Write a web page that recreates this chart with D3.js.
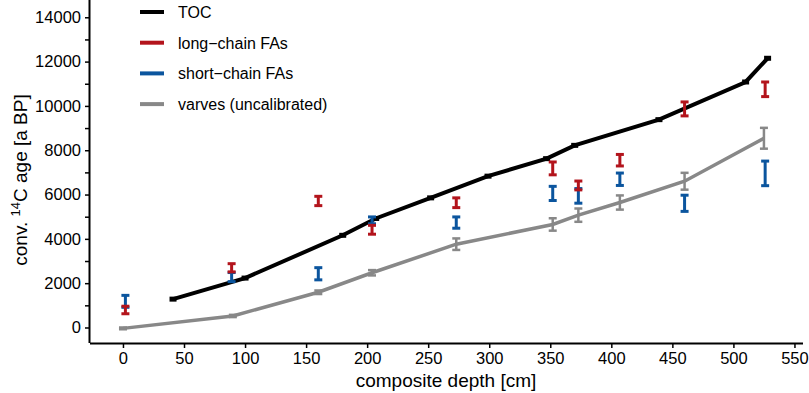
<!DOCTYPE html>
<html>
<head>
<meta charset="utf-8">
<script src="https://cdn.jsdelivr.net/npm/d3@7"></script>
<style>
  body { margin: 0; background: #fff; }
  text { font-family: "Liberation Sans", Arial, sans-serif; fill: #000; }
</style>
</head>
<body>
<svg id="chart" width="809" height="393"></svg>
<script>
// TOC ages
const tocDepth = [41, 100, 180, 207, 252, 299, 347, 370, 439, 510, 528];
const tocAge = [1280, 2230, 4160, 4920, 5850, 6830, 7620, 8220, 9380, 11080, 12150];

// varve ages (uncalibrated) with error range
const varveDepth = [0, 90, 160, 204, 273, 352, 373, 407, 460, 525];
const varveAge = [-40, 520, 1590, 2470, 3760, 4650, 5070, 5640, 6600, 8540];
const varveErr = [40, 50, 80, 120, 260, 280, 300, 320, 380, 470];

// long-chain fatty acids: lower / upper
const fatDepth = [2, 89, 160, 204, 273, 352, 373, 407, 460, 526];
const longLo = [620, 2510, 5500, 4210, 5410, 6890, 6210, 7290, 9550, 10420];
const longHi = [960, 2880, 5920, 4610, 5850, 7470, 6610, 7810, 10180, 11080];

// short-chain fatty acids: lower / upper
const shortLo = [910, 2070, 2150, 4680, 4480, 5730, 5610, 6410, 5240, 6400];
const shortHi = [1450, 2480, 2700, 4990, 4990, 6370, 6270, 6970, 5970, 7510];

const xTicks = [0, 50, 100, 150, 200, 250, 300, 350, 400, 450, 500, 550];
const yTicks = [0, 2000, 4000, 6000, 8000, 10000, 12000, 14000];

const legendNames = ['TOC', 'long\u2212chain FAs', 'short\u2212chain FAs', 'varves (uncalibrated)'];
const colors = { toc: '#000000', long: '#b3141c', short: '#0b559e', varve: '#888888' };
const legendColors = [colors.toc, colors.long, colors.short, colors.varve];

const svg = d3.select('#chart');

const x = d3.scaleLinear().domain([-27, 557]).range([90, 803]);
const y = d3.scaleLinear().domain([-700, 14780]).range([343, 0]);

// axes
const xAxis = d3.axisBottom(x).tickValues(xTicks).tickSize(5).tickPadding(4);
const yAxis = d3.axisLeft(y).tickValues(d3.range(0, 14001, 1000)).tickSize(5).tickPadding(4)
  .tickFormat(function (d) { return yTicks.indexOf(d) >= 0 ? d : ''; });

const gx = svg.append('g').attr('transform', 'translate(0,343)').call(xAxis);
const gy = svg.append('g').attr('transform', 'translate(90,0)').call(yAxis);

[gx, gy].forEach(function (g) {
  g.select('.domain').attr('stroke-width', 2).attr('stroke', '#000');
  g.selectAll('.tick line').attr('stroke-width', 1.5).attr('stroke', '#000');
  g.selectAll('.tick text').style('font-size', '16.5px').style('font-family', '"Liberation Sans", Arial, sans-serif').attr('fill', '#000');
});
gx.select('.domain').attr('d', 'M90,0.5H803');
gy.select('.domain').attr('d', 'M-0.5,0V343');

// axis titles
svg.append('text')
  .attr('x', 446).attr('y', 387)
  .attr('text-anchor', 'middle')
  .style('font-size', '19px')
  .text('composite depth [cm]');

const yt = svg.append('text')
  .attr('transform', 'translate(27,180) rotate(-90)')
  .attr('text-anchor', 'middle')
  .style('font-size', '19px');
yt.append('tspan').text('conv. ');
yt.append('tspan').attr('dy', -7).style('font-size', '13px').text('14');
yt.append('tspan').attr('dy', 7).text('C age [a BP]');

// error bar helper
function errorBars(depths, lo, hi, color, width, capW) {
  const g = svg.append('g').attr('stroke', color).attr('stroke-width', width).attr('fill', 'none');
  depths.forEach(function (d, i) {
    const cx = x(d);
    g.append('line').attr('x1', cx).attr('x2', cx).attr('y1', y(lo[i])).attr('y2', y(hi[i]));
    g.append('line').attr('x1', cx - capW).attr('x2', cx + capW).attr('y1', y(lo[i])).attr('y2', y(lo[i]));
    g.append('line').attr('x1', cx - capW).attr('x2', cx + capW).attr('y1', y(hi[i])).attr('y2', y(hi[i]));
  });
}

const line = d3.line()
  .x(function (d) { return x(d[0]); })
  .y(function (d) { return y(d[1]); })
  .curve(d3.curveLinear);

// varves
svg.append('path')
  .datum(d3.zip(varveDepth, varveAge))
  .attr('d', line)
  .attr('fill', 'none')
  .attr('stroke', colors.varve)
  .attr('stroke-width', 3.5);
errorBars(varveDepth,
  varveAge.map(function (v, i) { return v - varveErr[i]; }),
  varveAge.map(function (v, i) { return v + varveErr[i]; }),
  colors.varve, 2.5, 4);

// TOC
svg.append('path')
  .datum(d3.zip(tocDepth, tocAge))
  .attr('d', line)
  .attr('fill', 'none')
  .attr('stroke', colors.toc)
  .attr('stroke-width', 4);
svg.append('g').selectAll('rect')
  .data(d3.zip(tocDepth, tocAge))
  .join('rect')
  .attr('x', function (d) { return x(d[0]) - 3.5; })
  .attr('y', function (d) { return y(d[1]) - 2.5; })
  .attr('width', 7).attr('height', 5)
  .attr('fill', colors.toc);

// fatty acids
errorBars(fatDepth, shortLo, shortHi, colors.short, 3, 4);
errorBars(fatDepth, longLo, longHi, colors.long, 3, 4);

// legend
const leg = svg.append('g');
legendNames.forEach(function (name, i) {
  const ly = 12 + i * 30.7;
  leg.append('line')
    .attr('x1', 140).attr('x2', 164).attr('y1', ly).attr('y2', ly)
    .attr('stroke', legendColors[i]).attr('stroke-width', 4);
  leg.append('text')
    .attr('x', 178).attr('y', ly + 6)
    .style('font-size', '16px')
    .text(name);
});
</script>
</body>
</html>
